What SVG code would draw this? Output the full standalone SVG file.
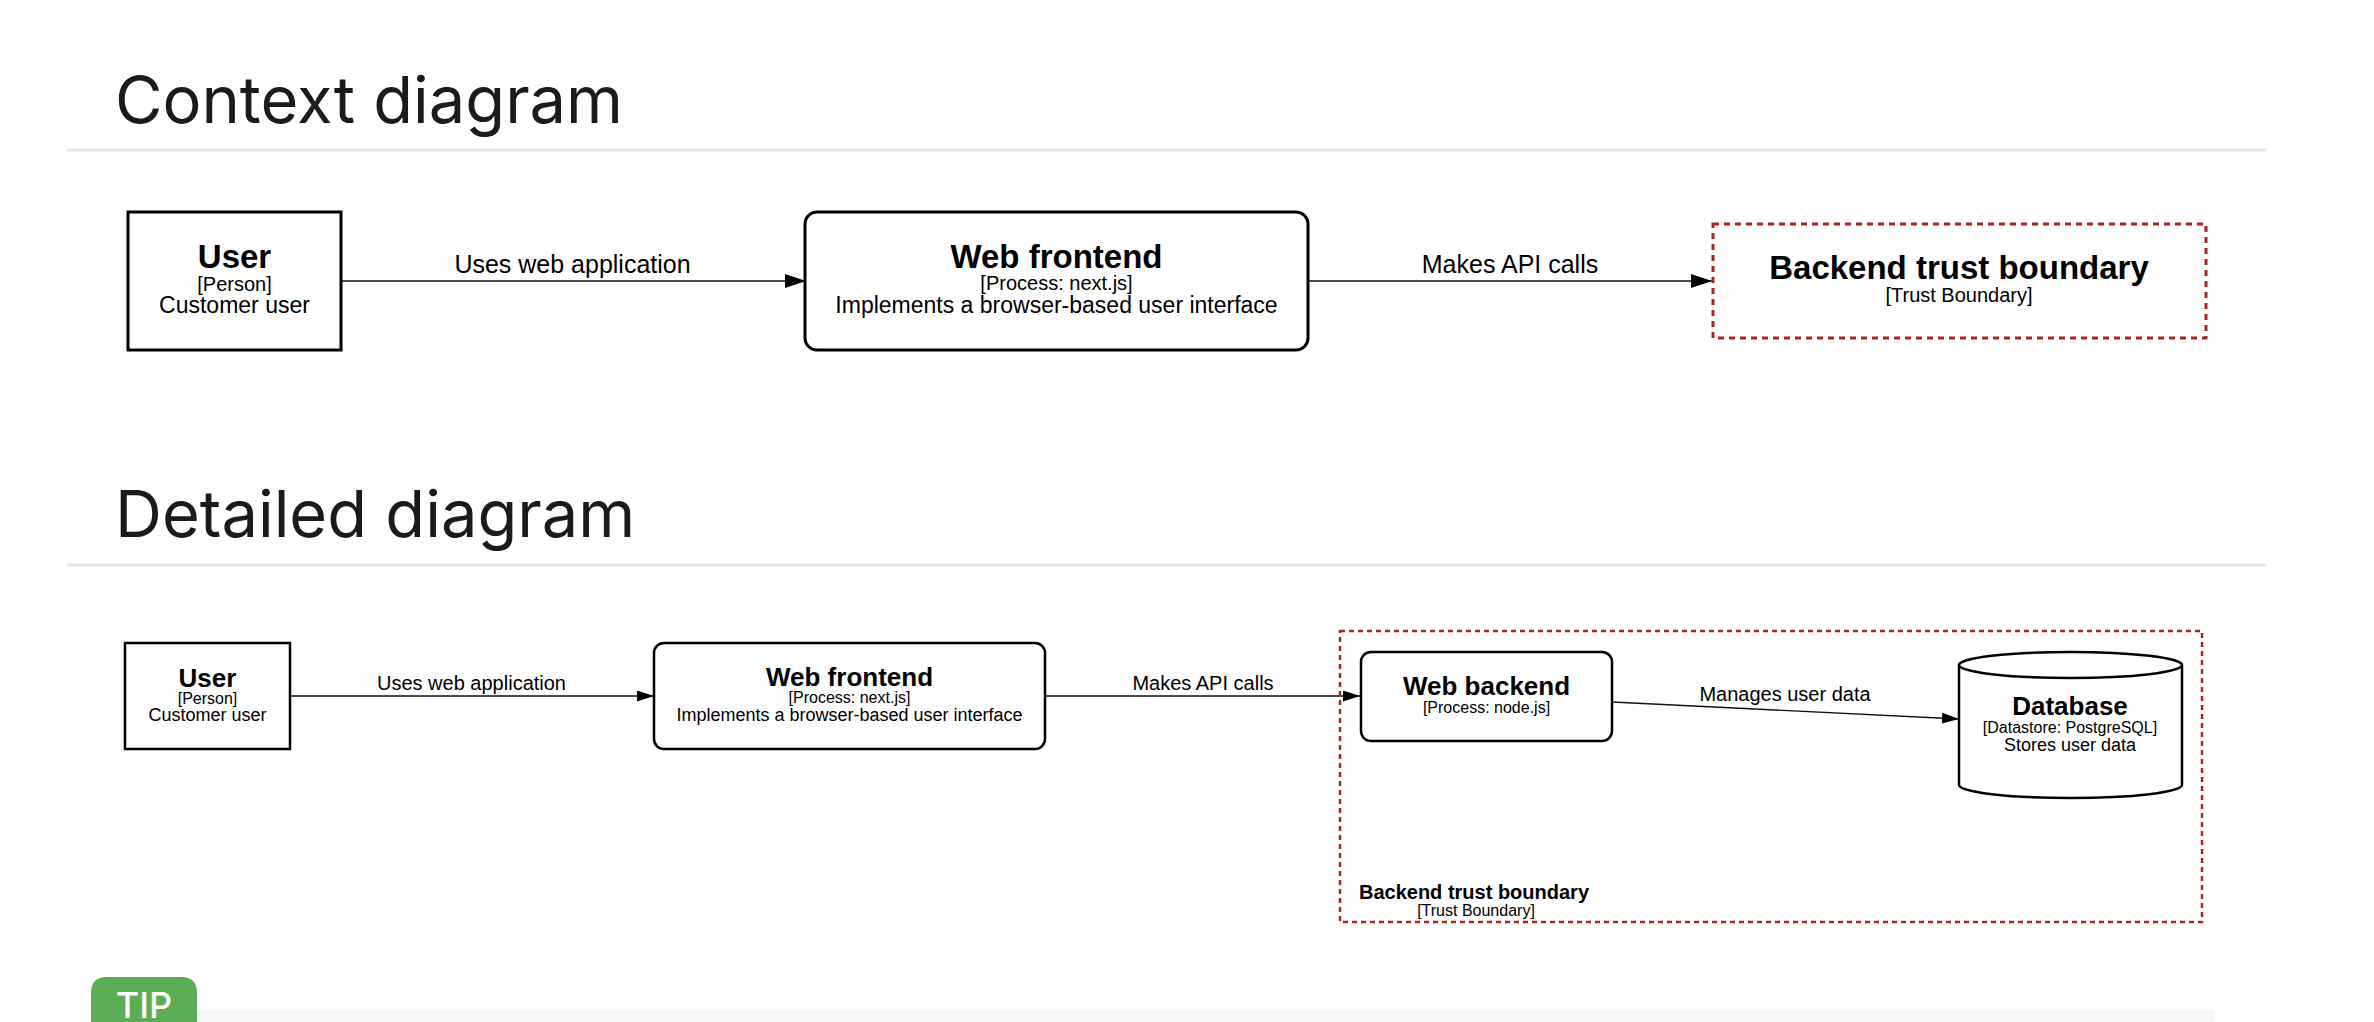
<svg xmlns="http://www.w3.org/2000/svg" width="2374" height="1022" viewBox="0 0 2374 1022">
<style>
.h{font-family:Inter,"Noto Sans",sans-serif;font-size:65px;fill:#1b1b1b}
.rule{stroke:#e4e4e4;stroke-width:3}
.t{font-family:"Liberation Sans",Arial,sans-serif;fill:#000;text-anchor:middle}
.b{font-weight:bold}
.box{fill:#fff;stroke:#000;stroke-width:3}
.box2{fill:#fff;stroke:#000;stroke-width:2.5}
.tb{fill:none;stroke:#b22222;stroke-width:3;stroke-dasharray:6 5}
.tb2{fill:none;stroke:#b22222;stroke-width:2.5;stroke-dasharray:5 4}
.e{stroke:#111;stroke-width:1.3;fill:none}
</style>
<defs>
<marker id="a1" markerUnits="userSpaceOnUse" markerWidth="22" markerHeight="16" refX="21" refY="7" orient="auto"><path d="M0,0 L21,7 L0,14 Z" fill="#000"/></marker>
<marker id="a2" markerUnits="userSpaceOnUse" markerWidth="18" markerHeight="12" refX="17" refY="5.5" orient="auto"><path d="M0,0 L17,5.5 L0,11 Z" fill="#000"/></marker>
</defs>
<rect width="2374" height="1022" fill="#fff"/>

<g id="header-context">
<text class="h" x="115" y="123">Context diagram</text>
<line class="rule" x1="67" y1="150" x2="2266" y2="150"/>
</g>
<g id="header-detailed">
<text class="h" x="115" y="537">Detailed diagram</text>
<line class="rule" x1="67" y1="565" x2="2266" y2="565"/>
</g>

<g id="connectors">
<line class="e" x1="341" y1="281" x2="806" y2="281" marker-end="url(#a1)"/>
<text class="t" x="572.5" y="273" font-size="25">Uses web application</text>
<line class="e" x1="1308" y1="281" x2="1712" y2="281" marker-end="url(#a1)"/>
<text class="t" x="1510" y="273" font-size="25">Makes API calls</text>

<line class="e" x1="290" y1="696" x2="654" y2="696" marker-end="url(#a2)"/>
<text class="t" x="471.5" y="690" font-size="20">Uses web application</text>
<line class="e" x1="1045" y1="696" x2="1360" y2="696" marker-end="url(#a2)"/>
<text class="t" x="1203" y="690" font-size="20">Makes API calls</text>
<line class="e" x1="1612" y1="702" x2="1959" y2="719" marker-end="url(#a2)"/>
<text class="t" x="1785" y="701" font-size="20">Manages user data</text>
</g>

<g id="ctx-user">
<rect class="box" x="128" y="212" width="213" height="138"/>
<text class="t b" x="234.5" y="268" font-size="33">User</text>
<text class="t" x="234.5" y="291" font-size="20">[Person]</text>
<text class="t" x="234.5" y="313" font-size="23">Customer user</text>
</g>
<g id="ctx-web-frontend">
<rect class="box" x="805" y="212" width="503" height="138" rx="12"/>
<text class="t b" x="1056.5" y="268" font-size="33">Web frontend</text>
<text class="t" x="1056.5" y="290" font-size="20">[Process: next.js]</text>
<text class="t" x="1056.5" y="313" font-size="23">Implements a browser-based user interface</text>
</g>
<g id="ctx-backend-boundary">
<rect class="tb" x="1713" y="224" width="493" height="114"/>
<text class="t b" x="1959" y="279" font-size="33">Backend trust boundary</text>
<text class="t" x="1959" y="302" font-size="20">[Trust Boundary]</text>
</g>

<g id="det-backend-boundary">
<rect class="tb2" x="1340" y="631" width="862" height="291"/>
<text class="t b" x="1474" y="899" font-size="20">Backend trust boundary</text>
<text class="t" x="1476" y="916" font-size="16">[Trust Boundary]</text>
</g>
<g id="det-user">
<rect class="box2" x="125" y="643" width="165" height="106"/>
<text class="t b" x="207.5" y="687" font-size="26">User</text>
<text class="t" x="207.5" y="704" font-size="16">[Person]</text>
<text class="t" x="207.5" y="721" font-size="18">Customer user</text>
</g>
<g id="det-web-frontend">
<rect class="box2" x="654" y="643" width="391" height="106" rx="10"/>
<text class="t b" x="849.5" y="686" font-size="26">Web frontend</text>
<text class="t" x="849.5" y="703" font-size="16">[Process: next.js]</text>
<text class="t" x="849.5" y="721" font-size="18">Implements a browser-based user interface</text>
</g>
<g id="det-web-backend">
<rect class="box2" x="1361" y="652" width="251" height="89" rx="10"/>
<text class="t b" x="1486.5" y="695" font-size="26">Web backend</text>
<text class="t" x="1486.5" y="713" font-size="16">[Process: node.js]</text>
</g>
<g id="det-database">
<path class="box2" d="M1959,665 L1959,785 A111.5,13 0 0 0 2182,785 L2182,665 A111.5,13 0 0 0 1959,665 Z"/>
<path class="box2" d="M1959,665 A111.5,13 0 0 0 2182,665"/>
<text class="t b" x="2070" y="715" font-size="26">Database</text>
<text class="t" x="2070" y="733" font-size="16">[Datastore: PostgreSQL]</text>
<text class="t" x="2070" y="751" font-size="18">Stores user data</text>
</g>

<g id="tip">
<rect x="197" y="1010" width="2017" height="12" fill="#f7f7f7"/>
<path d="M91,1022 L91,993 Q91,977 107,977 L181,977 Q197,977 197,993 L197,1022 Z" fill="#5cad55"/>
<text x="144" y="1018" text-anchor="middle" font-family="Inter,'Noto Sans',sans-serif" font-size="36" font-weight="500" fill="#fff">TIP</text>
</g>
</svg>
